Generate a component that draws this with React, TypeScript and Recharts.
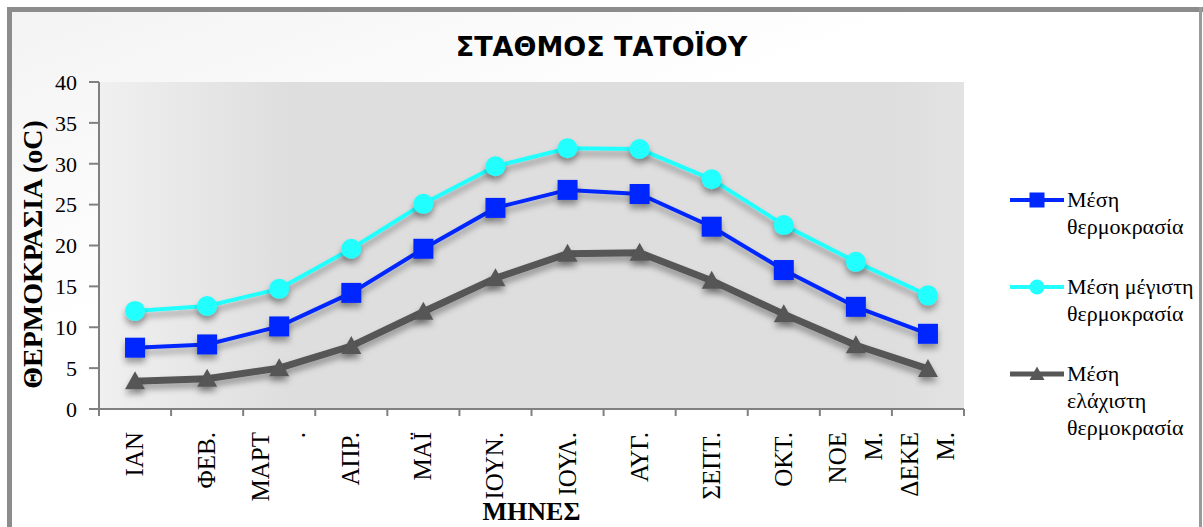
import { LineChart, Line, XAxis, YAxis, CartesianGrid } from 'recharts';

const months = ['ΙΑΝ', 'ΦΕΒ.', 'ΜΑΡΤ\n.', 'ΑΠΡ.', 'ΜΑΪ', 'ΙΟΥΝ.', 'ΙΟΥΛ.', 'ΑΥΓ.', 'ΣΕΠΤ.', 'ΟΚΤ.', 'ΝΟΕ\nΜ.', 'ΔΕΚΕ\nΜ.'];
const meanTemp = [7.5, 7.9, 10.1, 14.2, 19.6, 24.6, 26.8, 26.3, 22.3, 17.0, 12.5, 9.2];
const maxTemp = [12.0, 12.6, 14.7, 19.6, 25.1, 29.7, 31.9, 31.8, 28.1, 22.5, 18.0, 13.9];
const minTemp = [3.4, 3.7, 5.0, 7.7, 11.9, 16.0, 19.0, 19.1, 15.7, 11.6, 7.8, 4.9];
const yTicks = [0, 5, 10, 15, 20, 25, 30, 35, 40];

const series = [
  { key: 'mean', name: 'Μέση\nθερμοκρασία', color: '#0028ff', width: 4, shape: 'square' },
  { key: 'max', name: 'Μέση μέγιστη\nθερμοκρασία', color: '#22ffff', width: 4, shape: 'circle' },
  { key: 'min', name: 'Μέση\nελάχιστη\nθερμοκρασία', color: '#575757', width: 7, shape: 'triangle' },
];

const data = months.map((m, i) => ({ month: m, mean: meanTemp[i], max: maxTemp[i], min: minTemp[i] }));

const W = 1203;
const H = 527;
const PLOT_LEFT = 99;
const PLOT_RIGHT = 964;
const STEP = (PLOT_RIGHT - PLOT_LEFT) / months.length;
const serif = "'Liberation Serif', serif";

function Marker({ shape, cx, cy, size, color }: any) {
  const s = size / 2;
  if (shape === 'square') return <rect x={cx - s} y={cy - s} width={size} height={size} fill={color} />;
  if (shape === 'circle') return <circle cx={cx} cy={cy} r={s} fill={color} />;
  return <polygon points={`${cx},${cy - s} ${cx + s},${cy + s * 0.8} ${cx - s},${cy + s * 0.8}`} fill={color} />;
}

const makeDot = (shape: string, color: string) => (props: any) => (
  <g key={`${shape}-${props.index}`} filter="url(#shadow)">
    <Marker shape={shape} cx={props.cx} cy={props.cy} size={20} color={color} />
  </g>
);

function XTick({ x, y, payload, index }: any) {
  const lines = String(payload.value).split('\n');
  const axisY = y - 8;
  return (
    <g>
      <line x1={x - STEP / 2} x2={x - STEP / 2} y1={axisY} y2={axisY + 7} stroke="#808080" strokeWidth={2} />
      {index === months.length - 1 && (
        <line x1={x + STEP / 2} x2={x + STEP / 2} y1={axisY} y2={axisY + 7} stroke="#808080" strokeWidth={2} />
      )}
      {lines.map((l, i) => {
        const cx = x + (i - (lines.length - 1) / 2) * 36;
        return (
          <text
            key={i}
            transform={`translate(${cx + 8},${y + 15}) rotate(-90)`}
            textAnchor="end"
            fontFamily={serif}
            fontSize={25}
            fill="#000"
          >
            {l}
          </text>
        );
      })}
    </g>
  );
}

function LegendBox() {
  return (
    <div
      style={{
        position: 'absolute',
        left: 1010,
        top: 186,
        width: 193,
        fontFamily: serif,
        fontSize: 22,
        lineHeight: '27px',
        color: '#000',
      }}
    >
      {series.map((s) => (
        <div key={s.key} style={{ display: 'flex', marginBottom: 33 }}>
          <svg width={57} height={27} style={{ flex: 'none' }}>
            <line x1={0} x2={54} y1={14} y2={14} stroke={s.color} strokeWidth={s.width === 7 ? 5 : 4} />
            <Marker shape={s.shape} cx={27} cy={14} size={15} color={s.color} />
          </svg>
          <div style={{ whiteSpace: 'pre' }}>{s.name}</div>
        </div>
      ))}
    </div>
  );
}

export default function App() {
  return (
    <div style={{ position: 'absolute', left: 0, top: 0, width: W, height: H, overflow: 'hidden', background: '#fff' }}>
      <div
        style={{
          position: 'absolute',
          left: 7,
          top: 7,
          width: W,
          height: H,
          borderLeft: '5px solid #8c8c8c',
          borderTop: '5px solid #8c8c8c',
          background: 'linear-gradient(160deg, #f3f3f3 0%, #ffffff 35%, #ffffff 100%)',
        }}
      />
      <div style={{ position: 'absolute', left: 1199, top: 7, width: 3, height: H, background: '#9a9a9a' }} />
      <div
        style={{
          position: 'absolute',
          left: 0,
          top: 31,
          width: W,
          textAlign: 'center',
          fontFamily: "'DejaVu Sans', sans-serif",
          fontWeight: 'bold',
          fontSize: 27,
          color: '#000',
        }}
      >
        ΣΤΑΘΜΟΣ ΤΑΤΟΪΟΥ
      </div>
      <div style={{ position: 'absolute', left: 0, top: 0 }}>
        <LineChart width={W} height={H} data={data} margin={{ top: 82, right: W - PLOT_RIGHT, bottom: 78, left: 39 }}>
          <defs>
            <linearGradient id="plotBg" x1="0" y1="0" x2="1" y2="0">
              <stop offset="0%" stopColor="#f0f0f0" />
              <stop offset="22%" stopColor="#dedede" />
              <stop offset="92%" stopColor="#dedede" />
              <stop offset="100%" stopColor="#e3e3e3" />
            </linearGradient>
            <filter id="shadow" x="-50%" y="-50%" width="200%" height="220%">
              <feDropShadow dx="0" dy="5" stdDeviation="3" floodColor="#000" floodOpacity="0.35" />
            </filter>
          </defs>
          <CartesianGrid horizontal={false} vertical={false} fill="url(#plotBg)" />
          <XAxis
            dataKey="month"
            height={40}
            padding={{ left: STEP / 2, right: STEP / 2 }}
            axisLine={{ stroke: '#808080', strokeWidth: 2 }}
            tickLine={false}
            tickSize={6}
            tickMargin={2}
            interval={0}
            tick={<XTick />}
            label={{
              content: ({ viewBox }: any) => (
                <text
                  x={viewBox.x + viewBox.width / 2}
                  y={520}
                  textAnchor="middle"
                  fontFamily={serif}
                  fontWeight="bold"
                  fontSize={26}
                  fill="#000"
                >
                  ΜΗΝΕΣ
                </text>
              ),
            }}
          />
          <YAxis
            width={60}
            domain={[0, 40]}
            ticks={yTicks}
            interval={0}
            axisLine={{ stroke: '#808080', strokeWidth: 2 }}
            tickLine={{ stroke: '#808080', strokeWidth: 2 }}
            tickSize={10}
            tickMargin={12}
            tick={{ fill: '#000', fontSize: 22, fontFamily: serif }}
            label={{
              content: ({ viewBox }: any) => (
                <text
                  transform={`translate(42,${viewBox.y + viewBox.height / 2 + 9}) rotate(-90)`}
                  textAnchor="middle"
                  fontFamily={serif}
                  fontWeight="bold"
                  fontSize={28}
                  fill="#000"
                >
                  ΘΕΡΜΟΚΡΑΣΙΑ (oC)
                </text>
              ),
            }}
          />
          {series.map((s) => (
            <Line
              key={s.key}
              dataKey={s.key}
              name={s.name}
              type="linear"
              stroke={s.color}
              strokeWidth={s.width}
              dot={makeDot(s.shape, s.color)}
              activeDot={false}
              isAnimationActive={false}
              filter="url(#shadow)"
            />
          ))}
        </LineChart>
      </div>
      <LegendBox />
    </div>
  );
}
